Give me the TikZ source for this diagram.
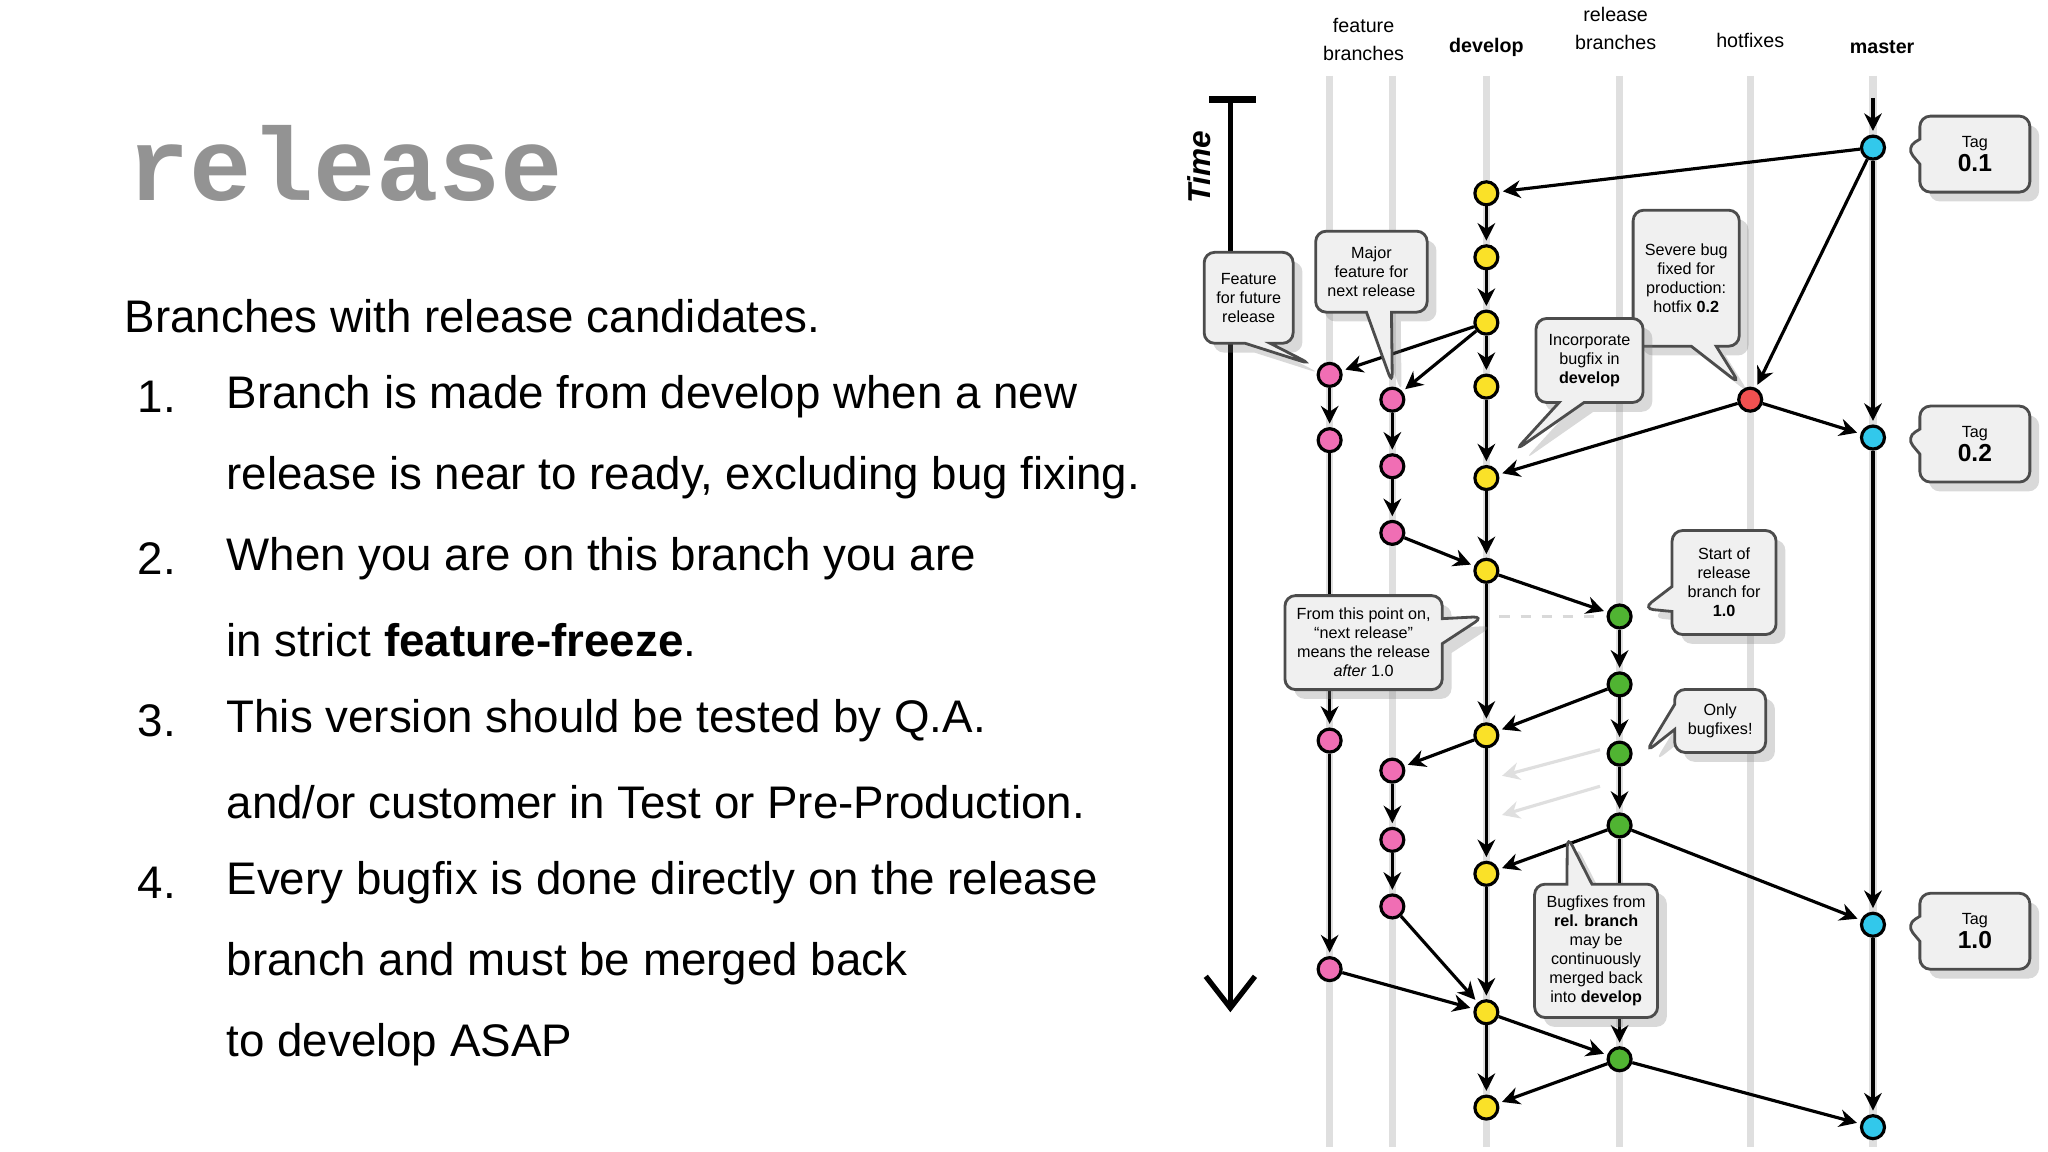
\documentclass[tikz,border=0pt]{standalone}
\usepackage{fontspec}
\setmainfont{Liberation Sans}
\newfontfamily\monofont{Liberation Mono}
\usetikzlibrary{positioning,shapes.callouts,arrows.meta,shadows}
\definecolor{devy}{RGB}{250,225,40}
\definecolor{featp}{RGB}{240,110,180}
\definecolor{relg}{RGB}{80,180,50}
\definecolor{hotr}{RGB}{240,80,80}
\definecolor{mastc}{RGB}{50,200,235}
\begin{document}
\begin{tikzpicture}[x=0.01306cm,y=-0.01306cm,
    dot/.style={circle,draw=black,line width=0.9pt,inner sep=0pt,minimum size=0.23cm},
    lane/.style={gray!25,line width=2pt},
    flow/.style={-{Stealth[length=5pt,width=5pt]},line width=0.9pt,shorten >=1pt},
    faint/.style={-{Stealth[length=5pt,width=5pt]},line width=0.9pt,gray!25},
    note/.style={rectangle callout,draw=black!70,fill=gray!12,rounded corners=3pt,line width=0.8pt,
                 align=center,font=\fontsize{4.6}{5.4}\selectfont,drop shadow={opacity=0.3}},
    head/.style={font=\fontsize{5.6}{8}\selectfont,align=center}]
  \useasboundingbox (0,0) rectangle (1568,882);

  % left text
  \node[anchor=west,font=\monofont\bfseries\fontsize{29.5}{30}\selectfont,text=gray!85] at (88,125) {release};
  \begin{scope}[every node/.style={anchor=west,font=\fontsize{13}{15}\selectfont}]
    \node at (86,242) {Branches with release candidates.};
    \node at (96,304) {1.};  \node at (164,304) {Branch is made from develop when a new};
    \node at (164,366) {release is near to ready, excluding bug fixing.};
    \node at (96,428) {2.};  \node at (164,428) {When you are on this branch you are};
    \node at (164,490) {in strict \textbf{feature-freeze}.};
    \node at (96,552) {3.};  \node at (164,552) {This version should be tested by Q.A.};
    \node at (164,614) {and/or customer in Test or Pre-Production.};
    \node at (96,676) {4.};  \node at (164,676) {Every bugfix is done directly on the release};
    \node at (164,738) {branch and must be merged back};
    \node at (164,800) {to develop ASAP};
  \end{scope}

  % headers and lanes
  \node[head] at (1044,30) {feature\\branches};
  \node[head,font=\fontsize{5.6}{8}\selectfont\bfseries] at (1138,36) {develop};
  \node[head] at (1237,22) {release\\branches};
  \node[head] at (1340,31) {hotfixes};
  \node[head,font=\fontsize{5.6}{8}\selectfont\bfseries] at (1441,36) {master};
  \foreach \x in {1018,1066,1138,1240,1340,1434}
    \draw[lane] (\x,58) -- (\x,878);

  % time axis
  \draw[line width=2pt] (926,76) -- (962,76);
  \draw[line width=1.5pt,-{Straight Barb[length=9pt,width=14pt]}] (942,76) -- (942,775);
  \node[rotate=90,font=\bfseries\itshape\fontsize{9}{9}\selectfont] at (918,128) {Time};

  % commits
  \foreach \y [count=\i] in {148,197,247,296,366,437,563,669,775,848}
    \node[dot,fill=devy] (d\i) at (1138,\y) {};
  \foreach \y [count=\i] in {287,337,567,742}
    \node[dot,fill=featp] (fa\i) at (1018,\y) {};
  \foreach \y [count=\i] in {306,357,408,590,643,694}
    \node[dot,fill=featp] (fb\i) at (1066,\y) {};
  \foreach \y [count=\i] in {472,524,577,632,811}
    \node[dot,fill=relg] (r\i) at (1240,\y) {};
  \foreach \y [count=\i] in {113,335,708,863}
    \node[dot,fill=mastc] (m\i) at (1434,\y) {};
  \node[dot,fill=hotr] (h1) at (1340,306) {};
  \coordinate (mtop) at (1434,75);

  % connections
  \foreach \a/\b in {mtop/m1,d1/d2,d2/d3,d3/d4,d4/d5,d5/d6,d6/d7,d7/d8,d8/d9,d9/d10,
                     fa1/fa2,fa2/fa3,fa3/fa4,fb1/fb2,fb2/fb3,fb4/fb5,fb5/fb6,
                     r1/r2,r2/r3,r3/r4,r4/r5,m1/m2,m2/m3,m3/m4,
                     m1/d1,d3/fa1,d3/fb1,fb3/d6,d7/fb4,fa4/d9,fb6/d9,
                     m1/h1,h1/m2,h1/d5,d6/r1,r2/d7,r4/d8,r4/m3,d9/r5,r5/d10,r5/m4}
    \draw[flow] (\a) -- (\b);
  \draw[gray!30,dashed,line width=0.8pt] (d6) ++(10,35) -- ++(80,0);
  \coordinate (g1) at (1225,574); \coordinate (g2) at (1150,594);
  \coordinate (g3) at (1225,602); \coordinate (g4) at (1150,624);
  \draw[faint] (g1) -- (g2);
  \draw[faint] (g3) -- (g4);

  % notes
  \node[note,minimum width=0.89cm,minimum height=0.91cm,callout absolute pointer={(1004,279)}]
    (nfeat) at (956,228) {Feature\\for future\\release};
  \node[note,minimum width=1.04cm,minimum height=0.81cm,callout absolute pointer={(1066,294)}]
    (nmajor) at (1050,208) {Major\\feature for\\next release};
  \node[note,minimum width=0.99cm,minimum height=1.36cm,callout absolute pointer={(1332,294)}]
    (nsevere) at (1291,213) {Severe bug\\fixed for\\production:\\hotfix \textbf{0.2}};
  \node[note,minimum width=1.07cm,minimum height=0.84cm,callout absolute pointer={(1160,345)}]
    (nincorp) at (1217,276) {Incorporate\\bugfix in\\\textbf{develop}};
  \node[note,minimum width=1.04cm,minimum height=1.04cm,callout absolute pointer={(1258,466)}]
    (nstart) at (1320,446) {Start of\\release\\branch for\\\textbf{1.0}};
  \node[note,minimum width=1.46cm,minimum height=0.94cm,callout absolute pointer={(1136,472)}]
    (nfrom) at (1044,492) {From this point on,\\“next release”\\means the release\\\textit{after} 1.0};
  \node[note,minimum width=0.91cm,minimum height=0.63cm,callout absolute pointer={(1260,576)}]
    (nonly) at (1317,552) {Only\\bugfixes!};
  \node[note,minimum width=1.23cm,minimum height=1.31cm,callout absolute pointer={(1200,640)}]
    (nbugfix) at (1222,728) {Bugfixes from\\\textbf{rel. branch}\\may be\\continuously\\merged back\\into \textbf{develop}};
  \foreach \t/\y/\m in {0.1/118/m1,0.2/340/m2,1.0/713/m3}
    \node[note,minimum width=1.10cm,minimum height=0.76cm,callout absolute pointer={([xshift=0.2cm]\m.east)}]
      at (1512,\y) {Tag\\{\fontsize{7}{8}\selectfont\textbf{\t}}};
\end{tikzpicture}
\end{document}
